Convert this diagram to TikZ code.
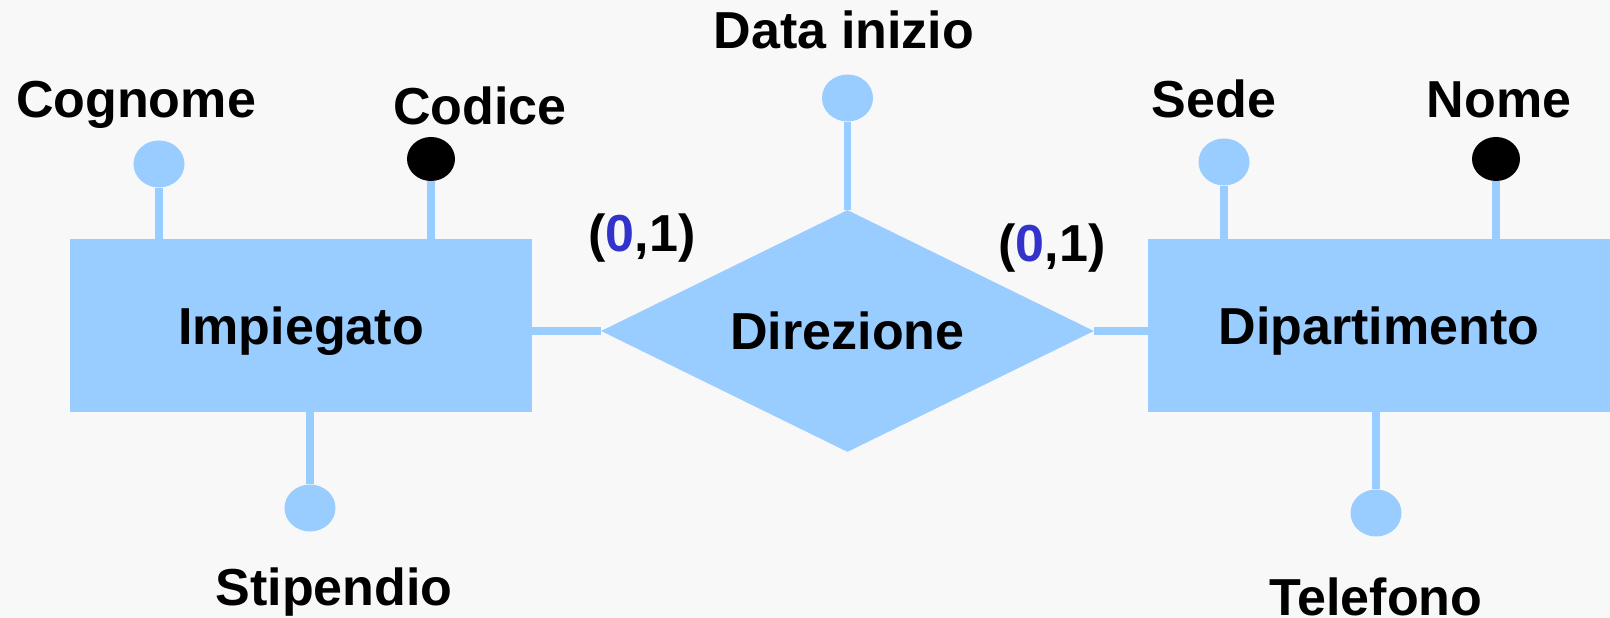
\documentclass[tikz,border=0pt]{standalone}
\usepackage{fontspec}
\setmainfont{Liberation Sans}
\usetikzlibrary{shapes.geometric}
\definecolor{erblue}{HTML}{99CCFF}
\definecolor{cardblue}{HTML}{3333CC}
\definecolor{bgcol}{HTML}{F8F8F8}

\begin{document}
\begin{tikzpicture}[font=\fontsize{29.6}{34}\selectfont\bfseries,
  entity/.style={fill=erblue,minimum width=9.24cm,minimum height=3.46cm,inner sep=0pt,text height=21.3pt,text depth=0pt},
  relation/.style={diamond,fill=erblue,aspect=2,minimum width=9.86cm,minimum height=4.84cm,inner sep=0pt},
  attr/.style={ellipse,fill=erblue,minimum width=1.02cm,minimum height=0.94cm,inner sep=0pt},
  keyattr/.style={ellipse,fill=black,minimum width=0.96cm,minimum height=0.88cm,inner sep=0pt},
  link/.style={erblue,line width=4.5pt},
  attrline/.style={erblue,line width=4pt},
  lbl/.style={anchor=base}]
  \useasboundingbox[fill=bgcol] (0,0) rectangle (32.2,12.36);
  % entities and relationship
  \node[entity] (imp) at (6.02,5.85) {Impiegato};
  \node[entity] (dip) at (27.58,5.85) {Dipartimento};
  \node[relation] (dir) at (16.95,5.74) {Direzione};
  \draw[link] (dir.west) -- (dir.west -| imp.east);
  \draw[link] (dir.east) -- (dir.east -| dip.west);
  % attributes of Impiegato
  \node[attr] (cog) at (3.18,9.08) {};
  \node[keyattr] (cod) at (8.62,9.18) {};
  \node[attr] (sti) at (6.2,2.2) {};
  \draw[attrline] (cog) -- (cog |- imp.north);
  \draw[attrline] (cod) -- (cod |- imp.north);
  \draw[attrline] (sti) -- (sti |- imp.south);
  \node[lbl] (cogl) at (2.72,10.0) {Cognome};
  \node[lbl] (codl) at (9.6,9.86) {Codice};
  \node[lbl] (stil) at (6.68,0.24) {Stipendio};
  % attribute of Direzione
  \node[attr] (dat) at (16.95,10.4) {};
  \draw[attrline] (dat) -- (dir.north);
  \node[lbl] (datl) at (16.88,11.38) {Data inizio};
  % attributes of Dipartimento
  \node[attr] (sed) at (24.48,9.12) {};
  \node[keyattr] (nom) at (29.92,9.18) {};
  \node[attr] (tel) at (27.52,2.1) {};
  \draw[attrline] (sed) -- (sed |- dip.north);
  \draw[attrline] (nom) -- (nom |- dip.north);
  \draw[attrline] (tel) -- (tel |- dip.south);
  \node[lbl] (sedl) at (24.28,10.0) {Sede};
  \node[lbl] (noml) at (29.98,10.0) {Nome};
  \node[lbl] (tell) at (27.52,0.04) {Telefono};
  % cardinalities
  \node[lbl] (cimp) at (12.84,7.32) {(\textcolor{cardblue}{0},1)};
  \node[lbl] (cdip) at (21.04,7.12) {(\textcolor{cardblue}{0},1)};
\end{tikzpicture}
\end{document}
